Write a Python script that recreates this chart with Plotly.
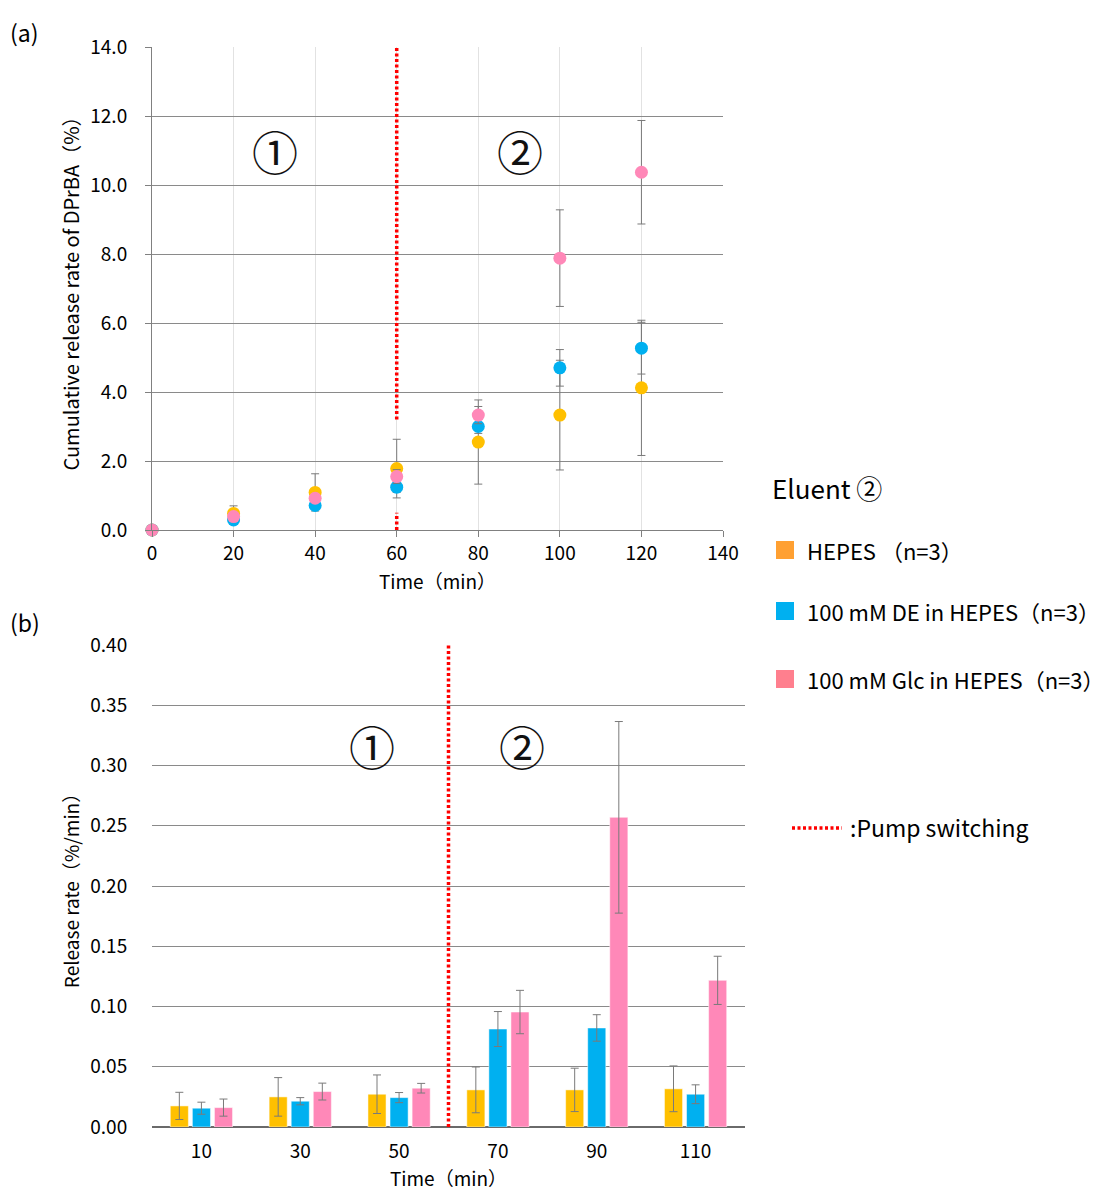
import plotly.graph_objects as go

# ---- (a) cumulative release: sampling times and mean/SD for each eluent ----
time_cum = [0, 20, 40, 60, 80, 100, 120]
hepes_cum = [0.0, 0.48, 1.09, 1.78, 2.55, 3.33, 4.12]
hepes_cum_sd = [0.0, 0.22, 0.54, 0.85, 1.22, 1.59, 1.96]
de_cum = [0.0, 0.29, 0.71, 1.24, 3.00, 4.70, 5.27]
de_cum_sd = [0.0, 0.05, 0.08, 0.15, 0.20, 0.53, 0.75]
glc_cum = [0.0, 0.39, 0.92, 1.55, 3.33, 7.88, 10.37]
glc_cum_sd = [0.0, 0.06, 0.10, 0.20, 0.25, 1.40, 1.50]

# ---- (b) release rate per interval ----
time_rate = ["10", "30", "50", "70", "90", "110"]
hepes_rate = [0.0175, 0.0250, 0.0272, 0.0308, 0.0308, 0.0317]
hepes_rate_sd = [0.0113, 0.0160, 0.0160, 0.0190, 0.0180, 0.0190]
de_rate = [0.0156, 0.0214, 0.0244, 0.0813, 0.0822, 0.0272]
de_rate_sd = [0.0050, 0.0030, 0.0042, 0.0145, 0.0110, 0.0078]
glc_rate = [0.0161, 0.0294, 0.0322, 0.0954, 0.2570, 0.1217]
glc_rate_sd = [0.0071, 0.0070, 0.0040, 0.0180, 0.0795, 0.0200]

series_names = ["HEPES （n=3）", "100 mM DE in HEPES（n=3）", "100 mM Glc in HEPES（n=3）"]
mark_colors = ["#FFC000", "#00B0F0", "#FF88B8"]
legend_colors = ["#FFA032", "#00B0F0", "#FF7F8E"]

switch_time = 60
FONT = "Noto Sans CJK JP"
W, H = 1110, 1191

def px(x):
    return x / W

def py(y):
    return 1 - y / H

fig = go.Figure()
err_style = dict(type="data", visible=True, color="#7a7a7a", thickness=1, width=4)

for vals, sds, col, name in [
    (hepes_cum, hepes_cum_sd, mark_colors[0], series_names[0]),
    (de_cum, de_cum_sd, mark_colors[1], series_names[1]),
    (glc_cum, glc_cum_sd, mark_colors[2], series_names[2]),
]:
    fig.add_trace(go.Scatter(
        x=time_cum, y=vals, mode="markers", name=name,
        marker=dict(color=col, size=13),
        error_y=dict(array=sds, **err_style),
        cliponaxis=False, showlegend=False,
        xaxis="x", yaxis="y",
    ))

for vals, sds, col, name in [
    (hepes_rate, hepes_rate_sd, mark_colors[0], series_names[0]),
    (de_rate, de_rate_sd, mark_colors[1], series_names[1]),
    (glc_rate, glc_rate_sd, mark_colors[2], series_names[2]),
]:
    fig.add_trace(go.Bar(
        x=time_rate, y=vals, name=name,
        marker=dict(color=col, line=dict(color="rgba(255,255,255,0.5)", width=1)),
        error_y=dict(array=sds, **err_style),
        showlegend=False, xaxis="x2", yaxis="y2",
    ))

axis_font = dict(family=FONT, size=19, color="#000")
title_font = dict(family=FONT, size=19, color="#000")

fig.update_layout(
    width=W, height=H, autosize=False,
    margin=dict(l=0, r=0, t=0, b=0, pad=0, autoexpand=False),
    paper_bgcolor="white", plot_bgcolor="white",
    font=dict(family=FONT, size=19, color="#000"),
    barmode="group", bargap=0.33, bargroupgap=0.18,
    xaxis=dict(
        domain=[px(152), px(723)], anchor="y", automargin=False,
        range=[0, 140], dtick=20, tick0=0,
        showgrid=True, gridcolor="#e2e2e2", gridwidth=1,
        showline=True, linecolor="#808080", linewidth=1,
        ticks="outside", ticklen=6, tickcolor="#808080",
        tickfont=axis_font, zeroline=False,
        title=dict(text="Time（min）", font=title_font, standoff=11),
    ),
    yaxis=dict(
        domain=[py(530), py(47)], anchor="x", automargin=False,
        range=[0, 14], dtick=2, tickformat=".1f",
        showgrid=True, gridcolor="#8a8a8a", gridwidth=1,
        showline=True, linecolor="#808080", linewidth=1,
        ticks="outside", ticklen=6, tickcolor="#808080", ticklabelstandoff=14,
        tickfont=axis_font, zeroline=False,
        title=dict(text="Cumulative release rate of DPrBA（%）", font=dict(family=FONT, size=20, color="#000"), standoff=5),
    ),
    xaxis2=dict(
        domain=[px(152), px(745)], anchor="y2", automargin=False,
        type="category", range=[-0.5, 5.5],
        showgrid=False, showline=False,
        ticks="outside", ticklen=7, tickcolor="rgba(0,0,0,0)",
        tickfont=axis_font,
        title=dict(text="Time（min）", font=title_font, standoff=15),
    ),
    yaxis2=dict(
        domain=[py(1127), py(645)], anchor="x2", automargin=False,
        range=[0, 0.40], dtick=0.05, tickformat=".2f",
        showgrid=True, gridcolor="#8a8a8a", gridwidth=1,
        showline=False, ticks="outside", ticklen=6, tickcolor="rgba(0,0,0,0)", ticklabelstandoff=14,
        zeroline=True, zerolinecolor="#6a6a6a", zerolinewidth=1.5,
        tickfont=axis_font,
        title=dict(text="Release rate（%/min）", font=title_font, standoff=5),
    ),
)

red_line = dict(color="#FF0000", width=3.5, dash="3px,2.5px")
# pump switching marker in (a): drawn around the data points at 60 min
fig.add_shape(type="line", xref="x", yref="y", x0=switch_time, x1=switch_time, y0=3.2, y1=14, line=red_line)
fig.add_shape(type="line", xref="x", yref="y", x0=switch_time, x1=switch_time, y0=0, y1=0.5, line=red_line)
# pump switching marker in (b): between the 50 and 70 min groups
fig.add_shape(type="line", xref="x2", yref="y2", x0=2.5, x1=2.5, y0=0, y1=0.40, line=red_line)

big = dict(family=FONT, size=46, color="#111")
for text, x, y in [("①", 275, 150), ("②", 520, 150), ("①", 372, 745), ("②", 522, 745)]:
    fig.add_annotation(text=text, xref="paper", yref="paper", x=px(x), y=py(y),
                       showarrow=False, xanchor="center", yanchor="middle", font=big)

for text, y in [("(a)", 32), ("(b)", 622)]:
    fig.add_annotation(text=text, xref="paper", yref="paper", x=px(8), y=py(y),
                       showarrow=False, xanchor="left", yanchor="middle",
                       font=dict(family=FONT, size=23, color="#000"))

# legend block
fig.add_annotation(text="Eluent ②", xref="paper", yref="paper", x=px(770), y=py(487),
                   showarrow=False, xanchor="left", yanchor="middle",
                   font=dict(family=FONT, size=26, color="#000"))
for name, col, y in zip(series_names, legend_colors, [550, 611, 679]):
    fig.add_shape(type="rect", xref="paper", yref="paper",
                  x0=px(776), x1=px(794), y0=py(y - 9), y1=py(y + 9),
                  fillcolor=col, line=dict(width=0))
    fig.add_annotation(text=name, xref="paper", yref="paper", x=px(805), y=py(y),
                       showarrow=False, xanchor="left", yanchor="middle",
                       font=dict(family=FONT, size=22, color="#000"))

fig.add_shape(type="line", xref="paper", yref="paper",
              x0=px(792), x1=px(842), y0=py(828), y1=py(828), line=red_line)
fig.add_annotation(text=":Pump switching", xref="paper", yref="paper", x=px(848), y=py(827),
                   showarrow=False, xanchor="left", yanchor="middle",
                   font=dict(family=FONT, size=23, color="#000"))

fig.write_html("out.html")
